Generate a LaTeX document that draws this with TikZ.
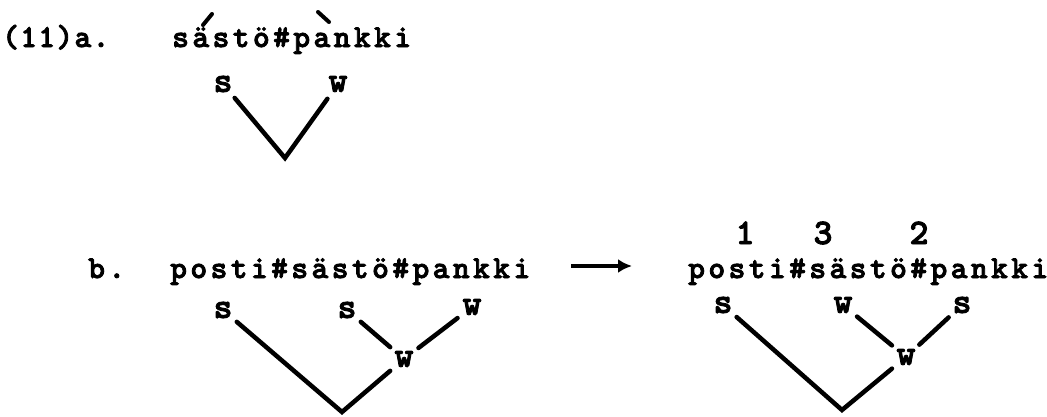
\documentclass[tikz,border=0pt]{standalone}
\usepackage{fontspec}
\newfontfamily\typefont[Extension=.otf,LetterSpace=10.6,FakeBold=2.5]{lmmonolt10-bold}
\usetikzlibrary{arrows.meta}

\begin{document}
\begin{tikzpicture}[x=1pt, y=-1pt,
    typed/.style={font=\typefont\fontsize{32}{34}\selectfont, inner sep=0pt},
    big/.style={font=\typefont\fontsize{36}{38}\selectfont, inner sep=0pt},
    lbl/.style={big, circle, minimum size=36pt},
    branch/.style={line width=4.5pt, line cap=round, line join=miter},
    stressmark/.style={line width=4pt, line cap=round}]
    \useasboundingbox (0,0) rectangle (1047,416);
    % (11)a.
    \node[typed, anchor=base west, font=\typefont\fontsize{32}{34}\selectfont\addfontfeatures{LetterSpace=4}]
        (exa) at (2,47) {(11)a.};
    \node[typed, anchor=base west] (wda) at (172,47) {sästö\#pankki};
    \draw[stressmark] (203,25) -- (212,14);
    \draw[stressmark] (318,12) -- (329,22);
    \node[lbl] (sa) at (223,84) {s};
    \node[lbl] (wa) at (338,84) {w};
    \coordinate (ra) at (285,158);
    \draw[branch] (sa) -- (ra) -- (wa);
    % b.
    \node[typed, anchor=base west] (exb) at (88,278) {b.};
    \node[typed, anchor=base west] (wdb) at (170,278) {posti\#sästö\#pankki};
    \node[typed, anchor=base west] (wdc) at (688,278) {posti\#sästö\#pankki};
    \draw[-{Latex[length=14pt,width=14pt]}, line width=3.5pt, shorten <=41pt, shorten >=56pt]
        ([yshift=12pt]wdb.base east) -- ([yshift=12pt]wdc.base west);
    \node[big, anchor=base] (n1) at (745,244) {1};
    \node[big, anchor=base] (n3) at (823,244) {3};
    \node[big, anchor=base] (n2) at (919,244) {2};
    % left tree
    \node[lbl] (sb1) at (223,310) {s};
    \node[lbl] (sb2) at (347,310) {s};
    \node[lbl] (wb3) at (472,307) {w};
    \node[lbl] (wb4) at (404,359) {w};
    \coordinate (rb) at (342,412);
    \draw[branch] (sb1) -- (rb) -- (wb4);
    \draw[branch] (sb2) -- (wb4);
    \draw[branch] (wb4) -- (wb3);
    % right tree
    \node[lbl] (sc1) at (723,305) {s};
    \node[lbl] (wc2) at (843,305) {w};
    \node[lbl] (sc3) at (962,305) {s};
    \node[lbl] (wc4) at (906,357) {w};
    \coordinate (rc) at (842,410);
    \draw[branch] (sc1) -- (rc) -- (wc4);
    \draw[branch] (wc2) -- (wc4);
    \draw[branch] (wc4) -- (sc3);
\end{tikzpicture}
\end{document}
